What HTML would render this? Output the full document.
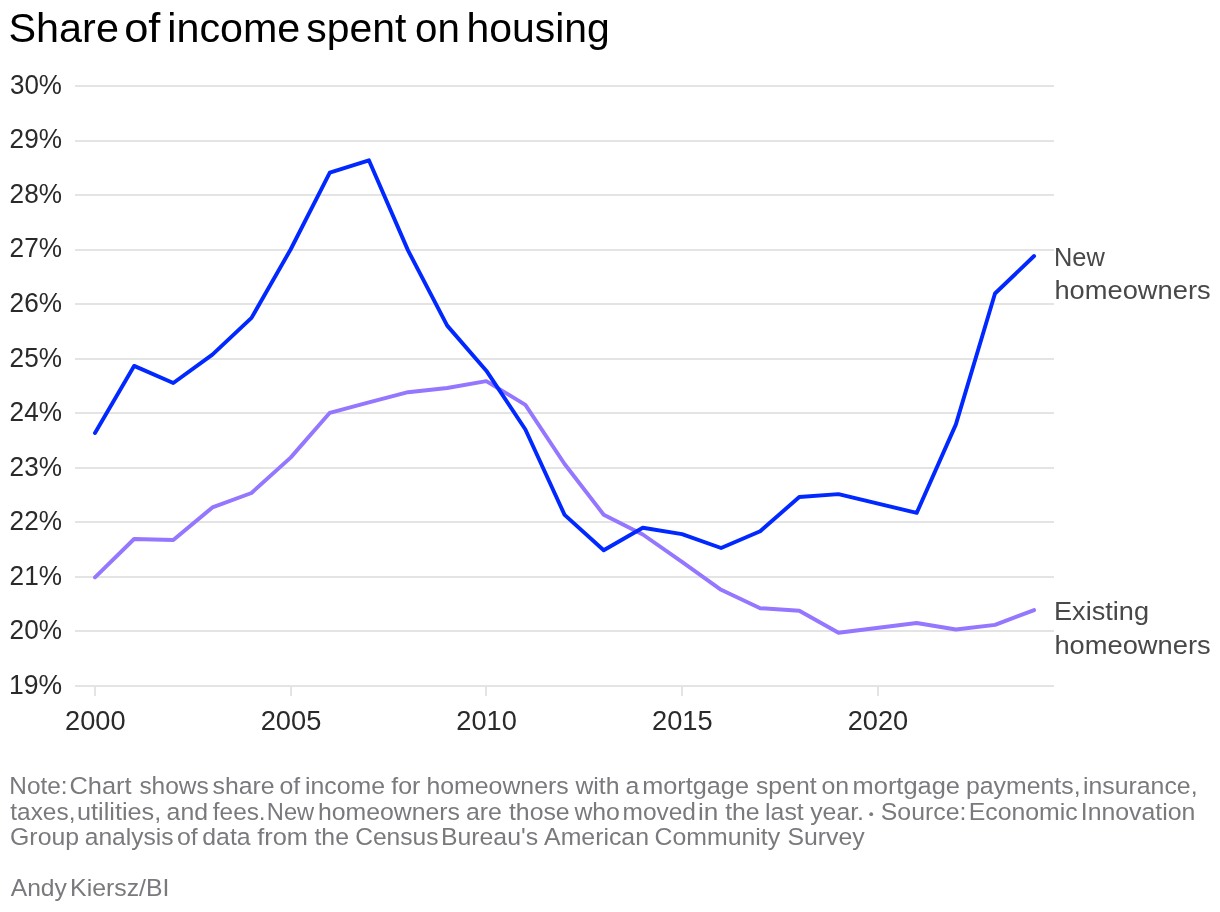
<!DOCTYPE html>
<html><head><meta charset="utf-8"><title>Share of income spent on housing</title>
<style>
html,body{margin:0;padding:0;background:#fff;}
svg{display:block;will-change:transform;}
text{font-family:"Liberation Sans",sans-serif;white-space:pre;}
</style></head><body>
<svg width="1220" height="912" viewBox="0 0 1220 912">
<rect width="1220" height="912" fill="#fff"/>
<g fill="#e4e4e4" shape-rendering="crispEdges">
<rect x="75" y="85" width="979" height="2"/>
<rect x="75" y="140" width="979" height="2"/>
<rect x="75" y="194" width="979" height="2"/>
<rect x="75" y="249" width="979" height="2"/>
<rect x="75" y="303" width="979" height="2"/>
<rect x="75" y="358" width="979" height="2"/>
<rect x="75" y="412" width="979" height="2"/>
<rect x="75" y="467" width="979" height="2"/>
<rect x="75" y="521" width="979" height="2"/>
<rect x="75" y="576" width="979" height="2"/>
<rect x="75" y="630" width="979" height="2"/>
<rect x="75" y="685" width="979" height="2"/>
<rect x="94" y="686" width="2" height="10"/>
<rect x="290" y="686" width="2" height="10"/>
<rect x="485" y="686" width="2" height="10"/>
<rect x="681" y="686" width="2" height="10"/>
<rect x="877" y="686" width="2" height="10"/>
</g>
<path d="M95.0,577.3 L134.1,539.0 L173.3,540.0 L212.4,507.4 L251.5,493.0 L290.6,457.6 L329.8,412.8 L368.9,402.4 L408.0,392.2 L447.2,388.0 L486.3,381.2 L525.4,404.8 L564.6,464.0 L603.7,514.7 L642.8,534.5 L682.0,561.8 L721.1,589.8 L760.2,608.2 L799.3,610.7 L838.5,632.8 L916.7,623.0 L955.9,629.5 L995.0,624.9 L1034.1,610.1" fill="none" stroke="#9476ff" stroke-width="3.9" stroke-linejoin="round" stroke-linecap="round"/>
<path d="M95.0,433.0 L134.1,365.9 L173.3,383.0 L212.4,354.6 L251.5,317.9 L290.6,249.5 L329.8,172.6 L368.9,160.3 L408.0,250.4 L447.2,325.6 L486.3,370.7 L525.4,429.5 L564.6,514.9 L603.7,550.2 L642.8,527.8 L682.0,534.1 L721.1,548.0 L760.2,531.2 L799.3,497.0 L838.5,494.1 L916.7,512.9 L955.9,424.4 L995.0,293.5 L1034.1,256.0" fill="none" stroke="#0028ff" stroke-width="3.9" stroke-linejoin="round" stroke-linecap="round"/>
<text transform="translate(8.54,41.80) scale(1.0269,1)" font-size="40.28" fill="#000">Share</text>
<text transform="translate(124.16,41.80) scale(1.0790,1)" font-size="40.28" fill="#000">of</text>
<text transform="translate(167.32,41.80) scale(1.0234,1)" font-size="40.28" fill="#000">income</text>
<text transform="translate(306.28,41.80) scale(1.0153,1)" font-size="40.28" fill="#000">spent</text>
<text transform="translate(415.09,41.80) scale(0.9994,1)" font-size="40.28" fill="#000">on</text>
<text transform="translate(466.54,41.80) scale(1.0162,1)" font-size="40.28" fill="#000">housing</text>
<text transform="translate(9.99,93.90) scale(0.9673,1)" font-size="26.86" fill="#2a2a2a">30%</text>
<text transform="translate(9.59,148.42) scale(0.9749,1)" font-size="26.86" fill="#2a2a2a">29%</text>
<text transform="translate(9.59,202.94) scale(0.9749,1)" font-size="26.86" fill="#2a2a2a">28%</text>
<text transform="translate(9.59,257.46) scale(0.9749,1)" font-size="26.86" fill="#2a2a2a">27%</text>
<text transform="translate(9.59,311.98) scale(0.9749,1)" font-size="26.86" fill="#2a2a2a">26%</text>
<text transform="translate(9.59,366.50) scale(0.9749,1)" font-size="26.86" fill="#2a2a2a">25%</text>
<text transform="translate(9.59,421.02) scale(0.9749,1)" font-size="26.86" fill="#2a2a2a">24%</text>
<text transform="translate(9.59,475.54) scale(0.9749,1)" font-size="26.86" fill="#2a2a2a">23%</text>
<text transform="translate(9.59,530.06) scale(0.9749,1)" font-size="26.86" fill="#2a2a2a">22%</text>
<text transform="translate(9.59,584.58) scale(0.9749,1)" font-size="26.86" fill="#2a2a2a">21%</text>
<text transform="translate(9.59,639.10) scale(0.9749,1)" font-size="26.86" fill="#2a2a2a">20%</text>
<text transform="translate(8.91,693.62) scale(0.9878,1)" font-size="26.86" fill="#2a2a2a">19%</text>
<text transform="translate(65.04,730.10) scale(1.0080,1)" font-size="27.00" fill="#2a2a2a">2000</text>
<text transform="translate(260.69,730.10) scale(1.0104,1)" font-size="27.00" fill="#2a2a2a">2005</text>
<text transform="translate(456.34,730.10) scale(1.0080,1)" font-size="27.00" fill="#2a2a2a">2010</text>
<text transform="translate(651.99,730.10) scale(1.0104,1)" font-size="27.00" fill="#2a2a2a">2015</text>
<text transform="translate(847.64,730.10) scale(1.0080,1)" font-size="27.00" fill="#2a2a2a">2020</text>
<text transform="translate(1053.97,265.85) scale(0.9666,1)" font-size="26.30" fill="#484848">New</text>
<text transform="translate(1054.43,299.30) scale(1.0752,1)" font-size="25.38" fill="#484848">homeowners</text>
<text transform="translate(1054.03,620.10) scale(1.0346,1)" font-size="26.23" fill="#484848">Existing</text>
<text transform="translate(1054.43,653.60) scale(1.0752,1)" font-size="25.38" fill="#484848">homeowners</text>
<text transform="translate(9.35,793.80) scale(1.0261,1)" font-size="23.77" fill="#7a7a7e">Note:</text>
<text transform="translate(69.43,793.80) scale(1.0692,1)" font-size="23.77" fill="#7a7a7e">Chart</text>
<text transform="translate(139.39,793.80) scale(1.0297,1)" font-size="23.77" fill="#7a7a7e">shows</text>
<text transform="translate(212.48,793.80) scale(1.0450,1)" font-size="23.77" fill="#7a7a7e">share</text>
<text transform="translate(279.41,793.80) scale(1.0450,1)" font-size="23.77" fill="#7a7a7e">of</text>
<text transform="translate(304.99,793.80) scale(1.0450,1)" font-size="23.77" fill="#7a7a7e">income</text>
<text transform="translate(391.35,793.80) scale(1.0450,1)" font-size="23.77" fill="#7a7a7e">for</text>
<text transform="translate(426.49,793.80) scale(1.0450,1)" font-size="23.77" fill="#7a7a7e">homeowners</text>
<text transform="translate(575.42,793.80) scale(1.0450,1)" font-size="23.77" fill="#7a7a7e">with</text>
<text transform="translate(625.51,793.80) scale(1.0450,1)" font-size="23.77" fill="#7a7a7e">a</text>
<text transform="translate(642.26,793.80) scale(1.0635,1)" font-size="23.77" fill="#7a7a7e">mortgage</text>
<text transform="translate(755.88,793.80) scale(1.0450,1)" font-size="23.77" fill="#7a7a7e">spent</text>
<text transform="translate(821.51,793.80) scale(1.0450,1)" font-size="23.77" fill="#7a7a7e">on</text>
<text transform="translate(852.55,793.80) scale(1.0706,1)" font-size="23.77" fill="#7a7a7e">mortgage</text>
<text transform="translate(966.01,793.80) scale(1.0450,1)" font-size="23.77" fill="#7a7a7e">payments,</text>
<text transform="translate(1082.99,793.80) scale(1.0450,1)" font-size="23.77" fill="#7a7a7e">insurance,</text>
<text transform="translate(10.33,819.60) scale(1.0268,1)" font-size="23.77" fill="#7a7a7e">taxes,</text>
<text transform="translate(76.98,819.60) scale(1.0642,1)" font-size="23.77" fill="#7a7a7e">utilities,</text>
<text transform="translate(166.61,819.60) scale(1.0450,1)" font-size="23.77" fill="#7a7a7e">and</text>
<text transform="translate(212.86,819.60) scale(1.0243,1)" font-size="23.77" fill="#7a7a7e">fees.</text>
<text transform="translate(266.80,819.60) scale(0.9975,1)" font-size="23.77" fill="#7a7a7e">New</text>
<text transform="translate(317.89,819.60) scale(1.0450,1)" font-size="23.77" fill="#7a7a7e">homeowners</text>
<text transform="translate(466.01,819.60) scale(1.0450,1)" font-size="23.77" fill="#7a7a7e">are</text>
<text transform="translate(508.93,819.60) scale(1.0450,1)" font-size="23.77" fill="#7a7a7e">those</text>
<text transform="translate(574.42,819.60) scale(1.0435,1)" font-size="23.77" fill="#7a7a7e">who</text>
<text transform="translate(622.51,819.60) scale(1.0301,1)" font-size="23.77" fill="#7a7a7e">moved</text>
<text transform="translate(698.00,819.60) scale(1.1000,1)" font-size="23.77" fill="#7a7a7e">in</text>
<text transform="translate(725.13,819.60) scale(1.0450,1)" font-size="23.77" fill="#7a7a7e">the</text>
<text transform="translate(765.09,819.60) scale(1.0450,1)" font-size="23.77" fill="#7a7a7e">last</text>
<text transform="translate(810.20,819.60) scale(1.0450,1)" font-size="23.77" fill="#7a7a7e">year.</text>
<text transform="translate(880.78,819.60) scale(1.0450,1)" font-size="23.77" fill="#7a7a7e">Source:</text>
<text transform="translate(968.71,819.60) scale(1.0450,1)" font-size="23.77" fill="#7a7a7e">Economic</text>
<text transform="translate(1080.76,819.60) scale(1.0450,1)" font-size="23.77" fill="#7a7a7e">Innovation</text>
<text transform="translate(10.06,845.20) scale(1.0450,1)" font-size="23.77" fill="#7a7a7e">Group</text>
<text transform="translate(84.72,845.20) scale(1.0346,1)" font-size="23.77" fill="#7a7a7e">analysis</text>
<text transform="translate(176.91,845.20) scale(1.0450,1)" font-size="23.77" fill="#7a7a7e">of</text>
<text transform="translate(202.31,845.20) scale(1.0450,1)" font-size="23.77" fill="#7a7a7e">data</text>
<text transform="translate(257.15,845.20) scale(1.0677,1)" font-size="23.77" fill="#7a7a7e">from</text>
<text transform="translate(314.43,845.20) scale(1.0450,1)" font-size="23.77" fill="#7a7a7e">the</text>
<text transform="translate(355.17,845.20) scale(1.0348,1)" font-size="23.77" fill="#7a7a7e">Census</text>
<text transform="translate(440.91,845.20) scale(1.0450,1)" font-size="23.77" fill="#7a7a7e">Bureau&#39;s</text>
<text transform="translate(544.10,845.20) scale(1.0450,1)" font-size="23.77" fill="#7a7a7e">American</text>
<text transform="translate(654.56,845.20) scale(1.0450,1)" font-size="23.77" fill="#7a7a7e">Community</text>
<text transform="translate(787.48,845.20) scale(1.0450,1)" font-size="23.77" fill="#7a7a7e">Survey</text>
<text transform="translate(10.70,895.70) scale(1.0374,1)" font-size="23.77" fill="#7a7a7e">Andy</text>
<text transform="translate(70.11,895.70) scale(1.0450,1)" font-size="23.77" fill="#7a7a7e">Kiersz/BI</text>
<circle cx="871.2" cy="814.2" r="1.9" fill="#7a7a7e"/>
</svg></body></html>
